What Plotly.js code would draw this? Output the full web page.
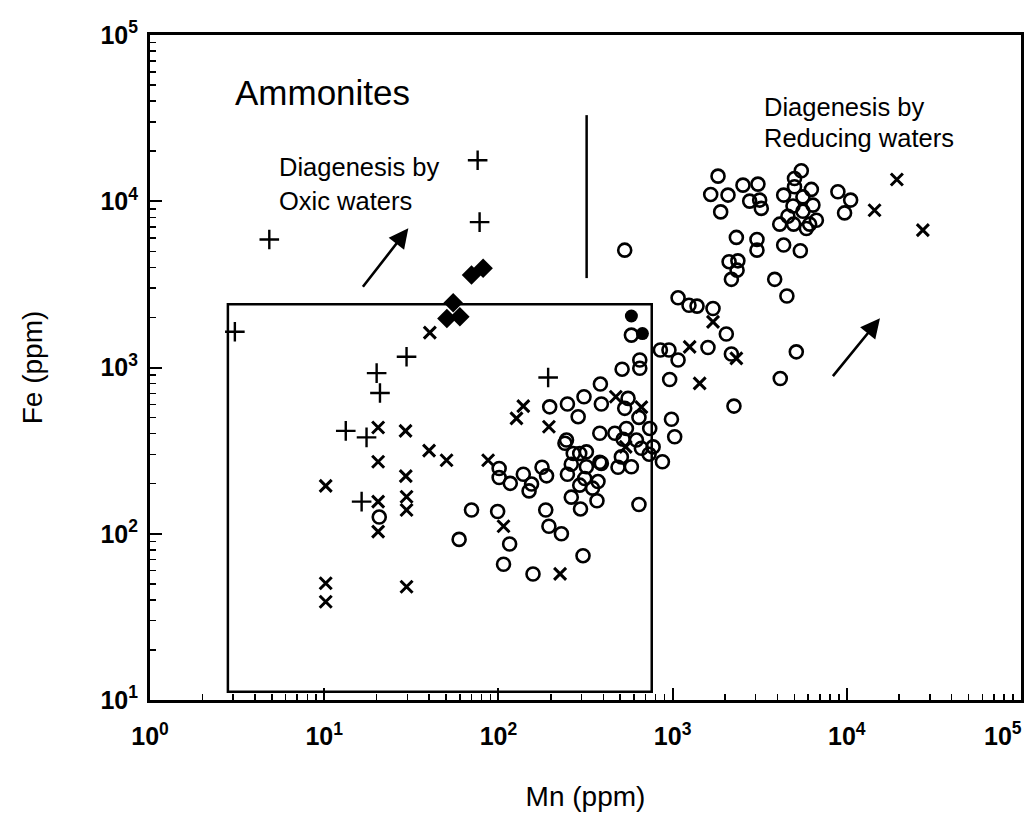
<!DOCTYPE html>
<html>
<head>
<meta charset="utf-8">
<script src="https://cdn.plot.ly/plotly-3.0.1.min.js"></script>
<style>html,body{margin:0;padding:0;background:#fff;}#chart{width:1029px;height:823px;}</style>
</head>
<body>
<div id="chart"></div>
<script>
// ---- data (Mn ppm, Fe ppm) ----
const plusMn = [76, 78, 4.84, 3.07, 29.7, 20.0, 20.9, 13.3, 17.5, 16.4, 193];
const plusFe = [17660, 7490, 5890, 1640, 1160, 925, 702, 416, 380, 156, 871];

const crossMn = [40.4, 20.4, 29.3, 40.0, 50.4, 87.3, 20.4, 10.2, 29.4, 20.4, 29.7, 29.7, 20.4, 10.2, 10.2, 29.7,
  139, 127, 195, 107, 226, 472, 662, 538, 1706, 1253, 2323, 1430, 19380, 14430, 27330];
const crossFe = [1620, 436, 416, 316, 277, 277, 271, 194, 222, 156, 167, 139, 103, 50.4, 39.0, 48.0,
  586, 494, 440, 111, 57.4, 667, 578, 333, 1880, 1330, 1135, 802, 13520, 8830, 6700];

const circleMn = [20.7, 70.1, 59.5, 99, 116, 107, 158, 187, 195, 230, 306, 641, 262, 296, 368, 101, 101, 117, 139, 155,
  150, 178, 189, 249, 262, 320, 313, 373, 293, 347, 390, 486, 580, 874,
  580, 648, 648, 513, 385, 310, 249, 197, 287, 390, 555, 531, 641, 739, 382, 466, 543, 520, 620, 662,
  773, 733, 246, 241, 293, 320, 382, 508, 269, 962, 985, 1028, 851, 953, 1075,
  1823, 1655, 2080, 1888, 2535, 3090, 2770, 3160, 3230, 5480, 5010, 4340, 5010, 6260, 5600, 4910, 6390, 5600, 4590,
  4120, 4950, 5860, 6690, 6120, 8890, 10520, 9710, 2323, 3050, 3050, 4340, 5410, 2110, 2370, 2345, 2175, 3855,
  4530, 1075, 1242, 1381, 1706, 2034, 1596, 2175, 5130, 4150, 2250, 531];
const circleFe = [126, 139, 92.5, 136, 86.7, 65.5, 57.3, 139, 111, 100, 73.8, 150, 166, 141, 158, 247, 218, 201, 228, 199,
  181, 251, 223, 228, 262, 253, 215, 206, 196, 188, 265, 251, 253, 271,
  1566, 1110, 989, 977, 795, 667, 603, 580, 506, 603, 652, 568, 501, 430, 402, 402, 430, 370, 366, 327,
  333, 301, 366, 350, 304, 311, 269, 290, 304, 847, 488, 383, 1274, 1274, 1110,
  14160, 10990, 10890, 8630, 12500, 12680, 10020, 10160, 9060, 15250, 13710, 10890, 12220, 11780, 10620, 9360, 9480, 8710, 8130,
  7280, 7280, 6860, 7690, 7280, 11400, 10160, 8510, 6060, 5890, 5080, 5450, 5040, 4330, 4380, 3850, 3390, 3390,
  2690, 2625, 2370, 2340, 2265, 1590, 1320, 1205, 1242, 859, 586, 5080];

const diamondMn = [70.1, 81.7, 55.0, 50.6, 60.1];
const diamondFe = [3600, 3950, 2450, 1970, 2020];

const dotMn = [580, 671];
const dotFe = [2040, 1600];

// inner box and vertical divider (data units)
const boxMn = [2.8, 759];
const boxFe = [11.2, 2405];
const dividerMn = 321;
const dividerFe = [3450, 32960];

// tick labels
const tickVals = [1, 10, 100, 1000, 10000, 100000];
const tickTextX = ['10<sup>0</sup>', '10<sup>1</sup>', '10<sup>2</sup>', '10<sup>3</sup>', '10<sup>4</sup>', '10<sup>5</sup>'];
const tickValsY = [10, 100, 1000, 10000, 100000];
const tickTextY = ['10<sup>1</sup>', '10<sup>2</sup>', '10<sup>3</sup>', '10<sup>4</sup>', '10<sup>5</sup>'];

const FONT = 'Liberation Sans, Arial, Helvetica, sans-serif';

const traces = [
  {x: circleMn, y: circleFe, mode: 'markers', type: 'scatter', name: 'circle',
   marker: {symbol: 'circle-open', size: 13, color: 'black', line: {width: 2.6, color: 'black'}}},
  {x: crossMn, y: crossFe, mode: 'markers', type: 'scatter', name: 'x',
   marker: {symbol: 'x-thin-open', size: 12, color: 'black', line: {width: 3, color: 'black'}}},
  {x: plusMn, y: plusFe, mode: 'markers', type: 'scatter', name: 'plus',
   marker: {symbol: 'cross-thin-open', size: 14, color: 'black', line: {width: 2.4, color: 'black'}}},
  {x: diamondMn, y: diamondFe, mode: 'markers', type: 'scatter', name: 'diamond',
   marker: {symbol: 'diamond', size: 15, color: 'black'}},
  {x: dotMn, y: dotFe, mode: 'markers', type: 'scatter', name: 'dot',
   marker: {symbol: 'circle', size: 13, color: 'black'}}
];

const axisCommon = {
  type: 'log', showgrid: false, zeroline: false,
  showline: true, linewidth: 3, linecolor: 'black', mirror: true,
  ticks: 'inside', ticklen: 12, tickwidth: 2, tickcolor: 'black',
  tickfont: {family: FONT, size: 25, color: 'black', weight: 'bold'},
  minor: {ticks: 'inside', ticklen: 6, tickwidth: 1.5, tickcolor: 'black', dtick: 'D1', showgrid: false}
};

const layout = {
  width: 1029, height: 823, autosize: false,
  margin: {l: 150, r: 8, t: 35, b: 123},
  paper_bgcolor: 'white', plot_bgcolor: 'white',
  showlegend: false,
  font: {family: FONT, color: 'black'},
  xaxis: Object.assign({}, axisCommon, {
    range: [0, 5], tickmode: 'array', tickvals: tickVals, ticktext: tickTextX,
    ticklabelstandoff: 12,
    title: {text: 'Mn (ppm)', font: {family: FONT, size: 28, color: 'black'}, standoff: 38}
  }),
  yaxis: Object.assign({}, axisCommon, {
    range: [1, 5], tickmode: 'array', tickvals: tickValsY, ticktext: tickTextY,
    ticklabelstandoff: 4,
    title: {text: 'Fe (ppm)', font: {family: FONT, size: 28, color: 'black'}, standoff: 50}
  }),
  shapes: [
    {type: 'rect', xref: 'x', yref: 'y', x0: boxMn[0], x1: boxMn[1], y0: boxFe[0], y1: boxFe[1],
     line: {color: 'black', width: 2.5}, layer: 'below'},
    {type: 'line', xref: 'x', yref: 'y', x0: dividerMn, x1: dividerMn, y0: dividerFe[0], y1: dividerFe[1],
     line: {color: 'black', width: 2.5}}
  ],
  annotations: [
    {text: '10<sup>5</sup>', xref: 'paper', yref: 'paper', x: 1.004, y: -0.024, xanchor: 'right', yanchor: 'top',
     showarrow: false, font: {family: FONT, size: 25, color: 'black', weight: 'bold'}},
    {text: 'Ammonites', xref: 'paper', yref: 'paper', x: 0.0953, y: 0.9128, xanchor: 'left', yanchor: 'middle',
     showarrow: false, font: {family: FONT, size: 35, color: 'black'}},
    {text: 'Diagenesis by', xref: 'paper', yref: 'paper', x: 0.1458, y: 0.8008, xanchor: 'left', yanchor: 'middle',
     showarrow: false, font: {family: FONT, size: 25.5, color: 'black'}},
    {text: 'Oxic waters', xref: 'paper', yref: 'paper', x: 0.1458, y: 0.7507, xanchor: 'left', yanchor: 'middle',
     showarrow: false, font: {family: FONT, size: 25.5, color: 'black'}},
    {text: 'Diagenesis by', xref: 'paper', yref: 'paper', x: 0.703, y: 0.8922, xanchor: 'left', yanchor: 'middle',
     showarrow: false, font: {family: FONT, size: 25.5, color: 'black'}},
    {text: 'Reducing waters', xref: 'paper', yref: 'paper', x: 0.703, y: 0.8451, xanchor: 'left', yanchor: 'middle',
     showarrow: false, font: {family: FONT, size: 25.5, color: 'black'}},
    {text: '', xref: 'paper', yref: 'paper', x: 0.2966, y: 0.7093, ax: -46.6, ay: 60,
     showarrow: true, arrowhead: 2, arrowsize: 1.5, arrowwidth: 2.6, arrowcolor: 'black'},
    {text: '', xref: 'paper', yref: 'paper', x: 0.8381, y: 0.574, ax: -48.3, ay: 59.4,
     showarrow: true, arrowhead: 2, arrowsize: 1.5, arrowwidth: 2.6, arrowcolor: 'black'}
  ]
};

Plotly.newPlot('chart', traces, layout, {staticPlot: true, displayModeBar: false});
</script>
</body>
</html>
